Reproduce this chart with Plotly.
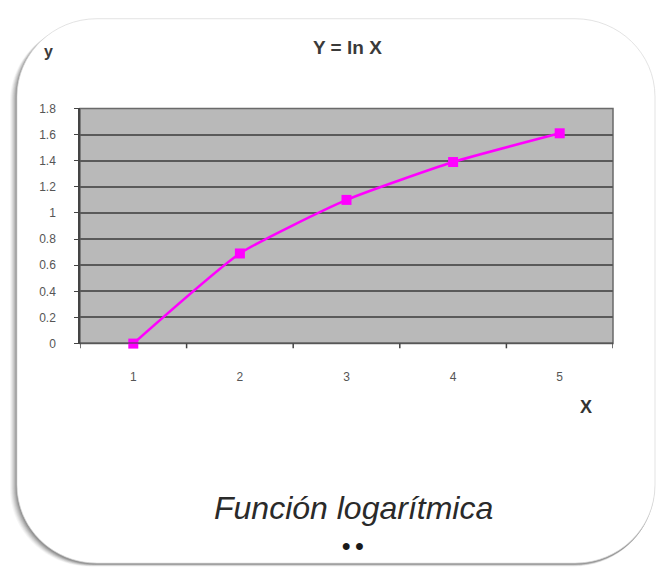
import plotly.graph_objects as go

categories = ["1", "2", "3", "4", "5"]
x_values = [1, 2, 3, 4, 5]
y_values = [0.0, 0.69, 1.10, 1.39, 1.61]
y_ticks = [0, 0.2, 0.4, 0.6, 0.8, 1.0, 1.2, 1.4, 1.6, 1.8]
y_tick_labels = ["0", "0.2", "0.4", "0.6", "0.8", "1", "1.2", "1.4", "1.6", "1.8"]

W, H = 658, 575
PL, PR, PT, PB = 80, 613, 104, 345  # plot area pixels


def fx(px):
    return px / W


def fy(py):
    return 1 - py / H


def rounded_path(x0, y0, x1, y1, r):
    k = 0.5523 * r
    pts = []
    pts.append(f"M {fx(x0 + r)},{fy(y0)}")
    pts.append(f"L {fx(x1 - r)},{fy(y0)}")
    pts.append(f"C {fx(x1 - r + k)},{fy(y0)} {fx(x1)},{fy(y0 + r - k)} {fx(x1)},{fy(y0 + r)}")
    pts.append(f"L {fx(x1)},{fy(y1 - r)}")
    pts.append(f"C {fx(x1)},{fy(y1 - r + k)} {fx(x1 - r + k)},{fy(y1)} {fx(x1 - r)},{fy(y1)}")
    pts.append(f"L {fx(x0 + r)},{fy(y1)}")
    pts.append(f"C {fx(x0 + r - k)},{fy(y1)} {fx(x0)},{fy(y1 - r + k)} {fx(x0)},{fy(y1 - r)}")
    pts.append(f"L {fx(x0)},{fy(y0 + r)}")
    pts.append(f"C {fx(x0)},{fy(y0 + r - k)} {fx(x0 + r - k)},{fy(y0)} {fx(x0 + r)},{fy(y0)}")
    pts.append("Z")
    return " ".join(pts)


shapes = []
# soft shadow towards bottom-left
for d, op in [(7, 0.05), (6, 0.07), (5, 0.09), (4, 0.11), (3, 0.14), (2, 0.18), (1, 0.22)]:
    shapes.append(dict(type="path", xref="paper", yref="paper", layer="below",
                       path=rounded_path(17 - d, 13 + d * 0.6, 655 - d * 0.2, 571 + d * 0.35, 80),
                       fillcolor=f"rgba(80,80,80,{op})", line=dict(width=0)))
shapes.append(dict(type="path", xref="paper", yref="paper", layer="below",
                   path=rounded_path(17, 12, 655, 570, 80),
                   fillcolor="white", line=dict(color="rgba(215,215,215,0.7)", width=1)))
# gray plot area
shapes.append(dict(type="rect", xref="x domain", yref="y domain", layer="below",
                   x0=0, x1=1, y0=0, y1=1, fillcolor="#b9b9b9",
                   line=dict(color="#6a6a6a", width=1.5)))

fig = go.Figure()
fig.add_trace(go.Scatter(
    x=x_values, y=y_values, mode="lines+markers",
    line=dict(color="#ff00ff", width=2.5, shape="spline", smoothing=0.5),
    marker=dict(symbol="square", size=10, color="#ff00ff"),
    showlegend=False, cliponaxis=False,
))

fig.update_layout(
    width=W, height=H,
    margin=dict(l=0, r=0, t=0, b=0),
    paper_bgcolor="white",
    plot_bgcolor="rgba(0,0,0,0)",
    shapes=shapes,
    font=dict(family="Liberation Sans, Arial", color="#333333"),
    xaxis=dict(
        domain=[fx(PL), fx(PR)], range=[0.5, 5.5],
        tickmode="array", tickvals=x_values, ticktext=categories,
        showgrid=False, zeroline=False, showline=False,
        ticks="", tickfont=dict(size=12, color="#555555"),
        ticklabelstandoff=24,
    ),
    yaxis=dict(
        domain=[fy(PB), fy(PT)], range=[0, 1.8],
        tickmode="array", tickvals=y_ticks, ticktext=y_tick_labels,
        showgrid=True, gridcolor="#5a5a5a", gridwidth=1.6,
        zeroline=False, showline=True, linecolor="#444444", linewidth=1.5,
        ticks="outside", ticklen=4, tickcolor="#444444",
        tickfont=dict(size=12, color="#555555"),
        ticklabelstandoff=16,
    ),
    annotations=[
        dict(text="<b>Y = ln X</b>", x=fx(347), y=fy(42), xref="paper", yref="paper",
             showarrow=False, font=dict(size=19, color="#3a3a3a"), xanchor="center", yanchor="middle"),
        dict(text="<b>y</b>", x=fx(48), y=fy(46), xref="paper", yref="paper",
             showarrow=False, font=dict(size=16, color="#3a3a3a"), xanchor="center", yanchor="middle"),
        dict(text="<b>X</b>", x=fx(586), y=fy(410), xref="paper", yref="paper",
             showarrow=False, font=dict(size=18, color="#333333"), xanchor="center", yanchor="middle"),
        dict(text="<i>Función logarítmica</i>", x=fx(353), y=fy(513), xref="paper", yref="paper",
             showarrow=False, font=dict(size=32, color="#2a2a2a"),
             xanchor="center", yanchor="middle"),
        dict(text="<b>•\u2009•</b>", x=fx(353), y=fy(552), xref="paper", yref="paper",
             showarrow=False, font=dict(size=24, color="#1a1a1a"), xanchor="center", yanchor="middle"),
    ],
)

# x tick marks between categories along the bottom axis
for xv in [0.5, 1.5, 2.5, 3.5, 4.5, 5.5]:
    fig.add_shape(type="line", xref="x", yref="y domain", x0=xv, x1=xv, y0=0, y1=-0.02,
                  line=dict(color="#444444", width=1.5))
fig.add_shape(type="line", xref="x domain", yref="y", x0=0, x1=1, y0=0, y1=0,
              line=dict(color="#444444", width=2))

fig.write_html("out.html")
